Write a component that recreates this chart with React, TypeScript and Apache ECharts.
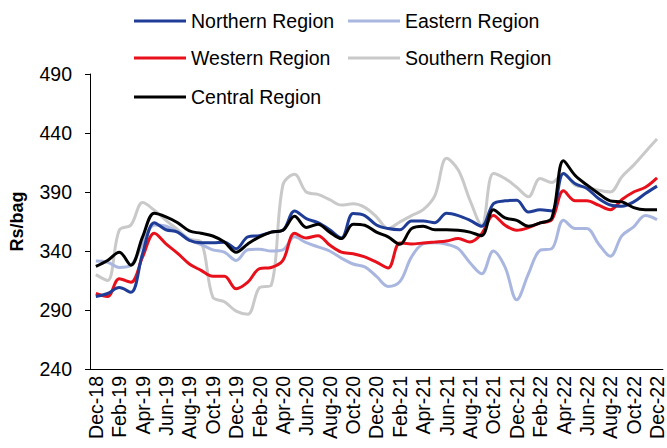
import React, { useEffect, useRef } from "react";
import * as echarts from "echarts";

const months = [
  "Dec-18","Jan-19","Feb-19","Mar-19","Apr-19","May-19","Jun-19","Jul-19","Aug-19","Sep-19","Oct-19","Nov-19",
  "Dec-19","Jan-20","Feb-20","Mar-20","Apr-20","May-20","Jun-20","Jul-20","Aug-20","Sep-20","Oct-20","Nov-20",
  "Dec-20","Jan-21","Feb-21","Mar-21","Apr-21","May-21","Jun-21","Jul-21","Aug-21","Sep-21","Oct-21","Nov-21",
  "Dec-21","Jan-22","Feb-22","Mar-22","Apr-22","May-22","Jun-22","Jul-22","Aug-22","Sep-22","Oct-22","Nov-22",
  "Dec-22",
];

const northern = [
  301.5, 304, 309, 305, 338, 364, 358, 356, 349, 347, 347, 347.5,
  342, 352, 353, 356, 357.6, 374, 367.5, 364, 358, 351, 371.7, 370,
  362, 359, 358, 365.5, 365.5, 364, 372, 370, 366, 361, 380, 382.5,
  383, 373, 375, 374, 405.7, 397, 393, 384.5, 379, 378, 381.6, 388.7,
  395,
];
const eastern = [
  331.5, 330.5, 326, 328, 346, 362, 361, 356, 349.5, 345.5, 341, 339,
  332, 341, 341.5, 340, 341, 352, 347, 343.5, 340, 334, 329, 326.5,
  318.5, 310, 314, 335, 346, 347, 345.7, 342, 330, 320.7, 340, 326.4,
  298.6, 320.7, 340.6, 342, 366, 359, 359, 346, 335.5, 353, 360.4, 370,
  366.6,
];
const western = [
  304, 301.5, 316.5, 313.6, 335, 355, 346, 338, 329, 323.6, 318.5, 318.5,
  308, 313.6, 325, 326, 332, 355, 351, 353, 345, 339, 337.7, 335,
  330.6, 325.6, 346.8, 346, 346.8, 347.6, 348.5, 350.5, 347.6, 354.7, 370, 361.8,
  357.6, 359.8, 363.8, 366.5, 391, 382.5, 382.5, 378.8, 375, 383.6, 390, 394,
  402,
];
const southern = [
  320, 315, 357.6, 362, 381, 374.6, 366, 358, 350, 347.6, 301, 297,
  289, 286.5, 309, 311, 396, 405, 390, 388, 383.5, 379, 380, 377,
  369, 359, 364.6, 370, 375, 387, 418.5, 408.6, 383, 361.8, 405.7, 401.5,
  394, 386, 401.5, 398, 405.7, 395.8, 394, 391.6, 390, 403, 412.8, 424,
  435,
];
const central = [
  327, 332, 339, 328, 352, 372, 369, 364, 357, 355, 352.7, 347.6,
  339, 346, 352, 356, 357.6, 369.5, 360, 362.7, 356, 350.5, 362.7, 361.8,
  356, 352, 345.7, 359, 361, 358, 358, 357.6, 356, 353, 375, 368,
  366, 361, 363.8, 368, 416.5, 404, 396, 388.7, 382.5, 381.6, 376.8, 375,
  375,
];

const seriesNames = ["Northern Region", "Eastern Region", "Western Region", "Southern Region", "Central Region"];
const seriesColors = ["#1f3d97", "#a9b6df", "#e8101a", "#c9c9c9", "#000000"];
const seriesData = [northern, eastern, western, southern, central];
const FONT = 'Arial, "Liberation Sans", sans-serif';
const FS = 19.5;

const legendPos = [
  { left: 134, top: 11 },
  { left: 348, top: 11 },
  { left: 134, top: 48 },
  { left: 348, top: 48 },
  { left: 134, top: 87 },
];

export default function App() {
  const ref = useRef<HTMLDivElement>(null);
  useEffect(() => {
    if (!ref.current) return;
    const chart = echarts.init(ref.current, undefined, { renderer: "svg" });
    chart.setOption({
      animation: false,
      backgroundColor: "#ffffff",
      legend: seriesNames.map((n, i) => ({
        data: [n],
        left: legendPos[i].left,
        top: legendPos[i].top,
        padding: 0,
        icon: "rect",
        itemWidth: 52,
        itemHeight: 3,
        itemGap: 0,
        textStyle: { fontFamily: FONT, fontSize: FS, lineHeight: 20, color: "#000", padding: [0, 0, 0, 0] },
      })),
      grid: { left: 87, right: 4, top: 74, bottom: 79, containLabel: false },
      xAxis: {
        type: "category",
        data: months,
        boundaryGap: true,
        axisLine: { lineStyle: { color: "#000", width: 1 } },
        axisTick: { interval: 1, length: 5, lineStyle: { color: "#000" } },
        axisLabel: {
          interval: 1,
          rotate: 90,
          margin: 7,
          fontFamily: FONT,
          fontSize: FS,
          color: "#000",
        },
        splitLine: { show: false },
      },
      yAxis: {
        type: "value",
        min: 240,
        max: 490,
        interval: 50,
        name: "Rs/bag",
        nameLocation: "middle",
        nameGap: 64,
        nameRotate: 90,
        nameTextStyle: { fontFamily: FONT, fontSize: 18, fontWeight: "bold", color: "#000" },
        axisLine: { show: true, lineStyle: { color: "#000", width: 1 } },
        axisTick: { show: true, length: 5, lineStyle: { color: "#000" } },
        axisLabel: { margin: 18, fontFamily: FONT, fontSize: FS, color: "#000" },
        splitLine: { show: false },
      },
      series: seriesNames.map((n, i) => ({
        name: n,
        type: "line",
        data: seriesData[i],
        smooth: 0.35,
        symbol: "none",
        lineStyle: { color: seriesColors[i], width: 3 },
        itemStyle: { color: seriesColors[i] },
        z: i === 4 ? 5 : i === 0 ? 4 : i === 2 ? 3 : i === 1 ? 2 : 1,
      })),
    });
    return () => chart.dispose();
  }, []);
  return (
    <div
      ref={ref}
      style={{ position: "fixed", left: 0, top: 0, width: 667, height: 448, background: "#fff" }}
    />
  );
}
